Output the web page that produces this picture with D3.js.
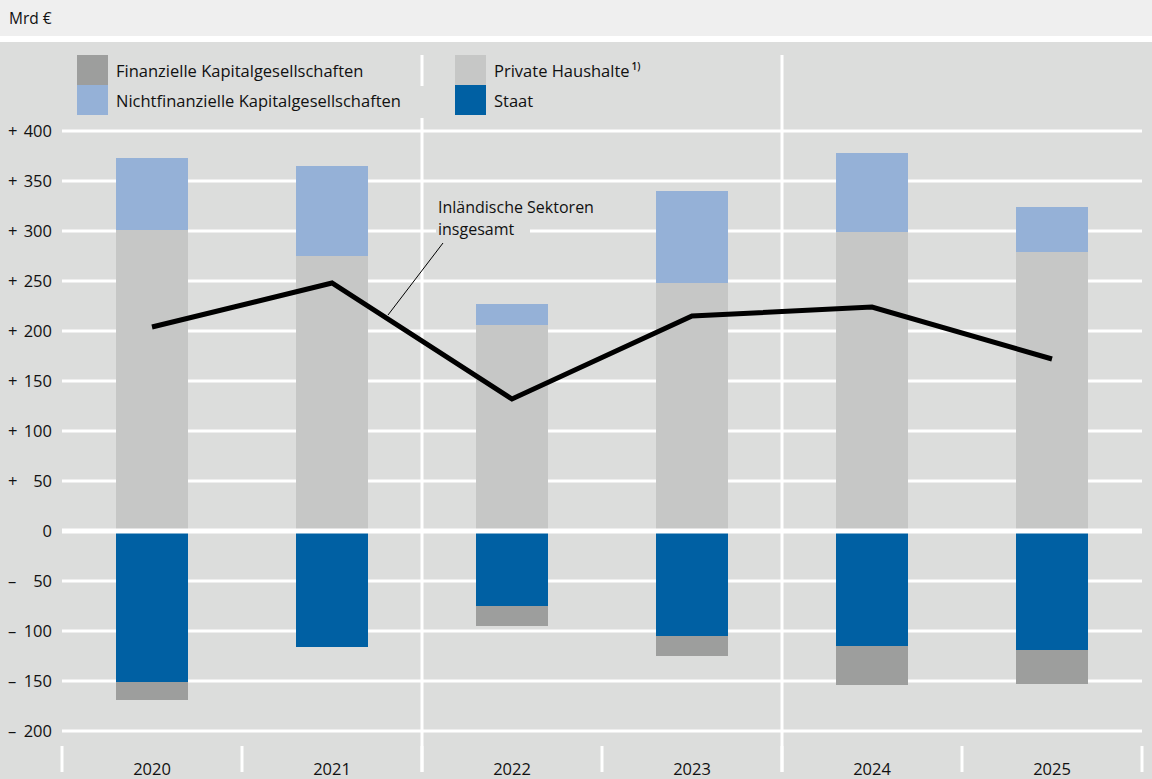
<!DOCTYPE html>
<html>
<head>
<meta charset="utf-8">
<script src="https://cdn.jsdelivr.net/npm/d3@7"></script>
<style>
  body { margin: 0; background: #fff; }
  text { font-family: "Open Sans", "Noto Sans", sans-serif; fill: #111; }
</style>
</head>
<body>
<script>
var years = ["2020", "2021", "2022", "2023", "2024", "2025"];
var privateHaushalte = [301, 275, 206, 248, 299, 279];
var nichtfinanzielle = [72, 90, 21, 92, 79, 45];
var staat = [-151, -116, -75, -105, -115, -119];
var finanzielle = [-18, 0, -20, -20, -39, -34];
var insgesamt = [204, 248, 132, 215, 224, 172];
var yTicks = [400, 350, 300, 250, 200, 150, 100, 50, 0, -50, -100, -150, -200];

var W = 1152, H = 779;
var svg = d3.select("body").append("svg").attr("width", W).attr("height", H);

// background bands
svg.append("rect").attr("x", 0).attr("y", 0).attr("width", W).attr("height", 36).attr("fill", "#efefef");
svg.append("rect").attr("x", 0).attr("y", 42).attr("width", W).attr("height", H - 42).attr("fill", "#dcdddc");
svg.append("text").attr("x", 9).attr("y", 24).attr("font-size", 15.5).text("Mrd €");

var y = d3.scaleLinear().domain([-200, 400]).range([731, 131]);
var xGroup = d3.scaleBand().domain(years).range([62, 1142]);
var x = d3.scaleBand().domain(years).range([62, 1142]).paddingInner(0.6).paddingOuter(0.3);

// gridlines
svg.selectAll("line.grid").data(yTicks.filter(function(d) { return d !== 0; })).enter().append("line")
    .attr("class", "grid")
    .attr("x1", 62).attr("x2", 1142)
    .attr("y1", function(d) { return y(d); }).attr("y2", function(d) { return y(d); })
    .attr("stroke", "#fff").attr("stroke-width", 3);

// y labels: sign on the left, number right-aligned
var labels = svg.selectAll("g.ylab").data(yTicks).enter().append("g").attr("class", "ylab");
labels.append("text")
    .attr("x", 8).attr("y", function(d) { return y(d) + 6; })
    .attr("font-size", 16.5)
    .text(function(d) { return d > 0 ? "+" : (d < 0 ? "\u2013" : ""); });
labels.append("text")
    .attr("x", 52).attr("y", function(d) { return y(d) + 6; })
    .attr("font-size", 16.5).attr("text-anchor", "end")
    .text(function(d) { return Math.abs(d); });

// dividers between pairs of years
var dividers = [xGroup("2022"), xGroup("2024")];
svg.selectAll("line.div").data(dividers).enter().append("line")
    .attr("class", "div")
    .attr("x1", function(d) { return d; }).attr("x2", function(d) { return d; })
    .attr("y1", 55).attr("y2", 772)
    .attr("stroke", "#fff").attr("stroke-width", 3);

// bottom tick marks
var tickXs = years.map(function(d) { return xGroup(d); }).concat([1142]);
svg.selectAll("line.tick").data(tickXs).enter().append("line")
    .attr("class", "tick")
    .attr("x1", function(d) { return d; }).attr("x2", function(d) { return d; })
    .attr("y1", 746).attr("y2", 772)
    .attr("stroke", "#fff").attr("stroke-width", 3);

svg.selectAll("text.year").data(years).enter().append("text")
    .attr("class", "year")
    .attr("x", function(d) { return xGroup(d) + xGroup.bandwidth() / 2; })
    .attr("y", 775).attr("text-anchor", "middle").attr("font-size", 16.5)
    .text(function(d) { return d; });

// stacked bars
var table = years.map(function(d, i) {
  return { year: d, ph: privateHaushalte[i], nfk: nichtfinanzielle[i], staat: staat[i], fk: finanzielle[i] };
});
var keys = ["ph", "nfk", "staat", "fk"];
var colors = { ph: "#c6c7c6", nfk: "#95b1d7", staat: "#0060a3", fk: "#9d9e9d" };
var stack = d3.stack().keys(keys).offset(d3.stackOffsetDiverging)(table);

svg.selectAll("g.layer").data(stack).enter().append("g")
    .attr("class", "layer")
    .attr("fill", function(d) { return colors[d.key]; })
  .selectAll("rect").data(function(d) { return d; }).enter().append("rect")
    .attr("x", function(d) { return x(d.data.year); })
    .attr("width", x.bandwidth())
    .attr("y", function(d) { return y(Math.max(d[0], d[1])); })
    .attr("height", function(d) { return Math.abs(y(d[0]) - y(d[1])); });

// zero line on top of bars
svg.append("line")
    .attr("x1", 62).attr("x2", 1142).attr("y1", y(0)).attr("y2", y(0))
    .attr("stroke", "#fff").attr("stroke-width", 5);

// total line
var line = d3.line()
    .x(function(d, i) { return x(years[i]) + x.bandwidth() / 2; })
    .y(function(d) { return y(d); });
svg.append("path").datum(insgesamt)
    .attr("d", line).attr("fill", "none")
    .attr("stroke", "#000").attr("stroke-width", 5).attr("stroke-linejoin", "miter");

// annotation
svg.append("rect").attr("x", 436).attr("y", 198).attr("width", 204).attr("height", 26).attr("fill", "#dcdddc");
svg.append("rect").attr("x", 436).attr("y", 220).attr("width", 94).attr("height", 22).attr("fill", "#dcdddc");
svg.append("text").attr("x", 438).attr("y", 213).attr("font-size", 16).text("Inländische Sektoren");
svg.append("text").attr("x", 438).attr("y", 235).attr("font-size", 16).text("insgesamt");
svg.append("line")
    .attr("x1", 443).attr("y1", 243).attr("x2", 388).attr("y2", 315)
    .attr("stroke", "#000").attr("stroke-width", 1);

// legend
var legendItems = [
  { label: "Finanzielle Kapitalgesellschaften", color: colors.fk, x: 77, y: 55 },
  { label: "Nichtfinanzielle Kapitalgesellschaften", color: colors.nfk, x: 77, y: 85 },
  { label: "Private Haushalte", color: colors.ph, x: 455, y: 55, sup: "1)" },
  { label: "Staat", color: colors.staat, x: 455, y: 85 }
];
svg.append("rect").attr("x", 414).attr("y", 86).attr("width", 18).attr("height", 32).attr("fill", "#dcdddc");
var lg = svg.selectAll("g.legend").data(legendItems).enter().append("g").attr("class", "legend");
lg.append("rect")
    .attr("x", function(d) { return d.x; }).attr("y", function(d) { return d.y; })
    .attr("width", 31).attr("height", 30)
    .attr("fill", function(d) { return d.color; });
var lt = lg.append("text")
    .attr("x", function(d) { return d.x + 39; }).attr("y", function(d) { return d.y + 22; })
    .attr("font-size", 16.5);
lt.append("tspan").text(function(d) { return d.label; });
lt.filter(function(d) { return d.sup; }).append("tspan")
    .attr("dx", 2).attr("dy", -7).attr("font-size", 10).attr("font-weight", 600)
    .text(function(d) { return d.sup; });
</script>
</body>
</html>
